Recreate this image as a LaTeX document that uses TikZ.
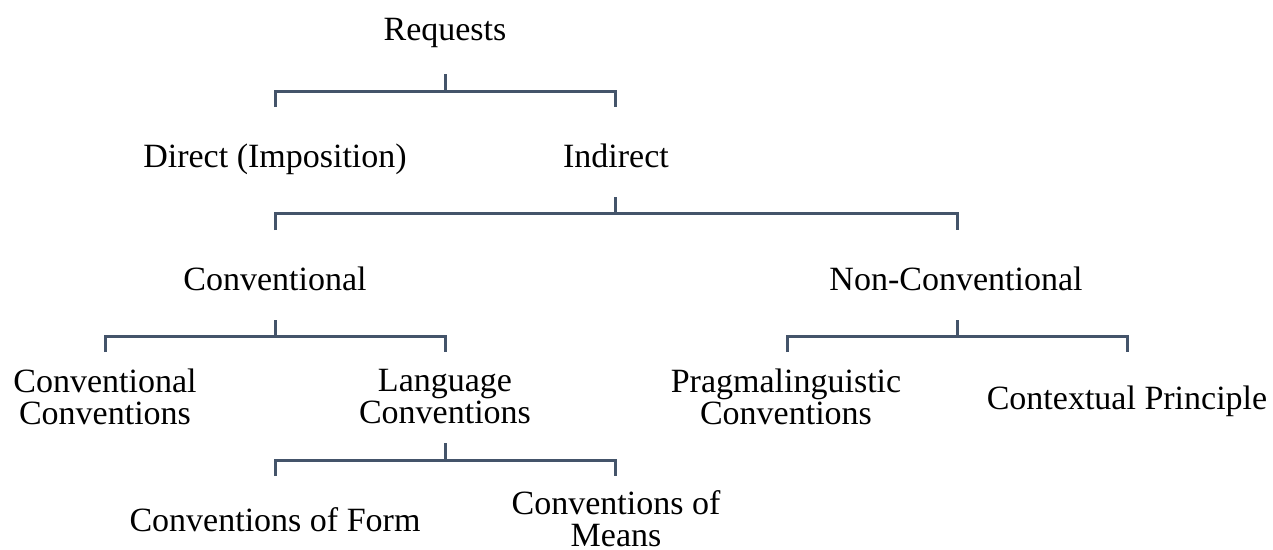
\documentclass[tikz,border=0pt]{standalone}
\usepackage{fontspec}
\setmainfont{Liberation Serif}
\definecolor{linec}{HTML}{44546A}
\begin{document}
\begin{tikzpicture}[x=1pt,y=-1pt,
  lab/.style={font=\fontsize{34}{32}\selectfont, inner sep=0pt, align=center, text=black},
  conn/.style={draw=linec, line width=3pt, line join=miter}]
\useasboundingbox (0,0) rectangle (1273,549);
% labels
\node[lab, anchor=base] (req)  at (445,40)  {Requests};
\node[lab, anchor=base] (dir)  at (275,167) {Direct (Imposition)};
\node[lab, anchor=base] (ind)  at (616,167) {Indirect};
\node[lab, anchor=base] (conv) at (275,290) {Conventional};
\node[lab, anchor=base] (nonc) at (956,290) {Non-Conventional};
\node[lab, anchor=center] (cc)  at (105,397) {Conventional\\Conventions};
\node[lab, anchor=center] (lc)  at (445,397) {Language\\Conventions};
\node[lab, anchor=center] (pc)  at (786,397) {Pragmalinguistic\\Conventions};
\node[lab, anchor=base] (cp)   at (1127,409) {Contextual Principle};
\node[lab, anchor=base] (cf)   at (275,531) {Conventions of Form};
\node[lab, anchor=center] (cm) at (616,519) {Conventions of\\Means};
% bracket 1
\coordinate (b1s) at (445,74);  \coordinate (b1m) at (445,91);
\coordinate (b1l) at (275,107); \coordinate (b1r) at (615,107);
\draw[conn] (b1s) -- (b1m);
\draw[conn] (b1l) |- (b1m) -| (b1r);
% bracket 2
\coordinate (b2s) at (615,197);  \coordinate (b2m) at (615,213);
\coordinate (b2l) at (275,230);  \coordinate (b2r) at (957,230);
\draw[conn] (b2s) -- (b2m);
\draw[conn] (b2l) |- (b2m) -| (b2r);
% bracket 3
\coordinate (b3s) at (275,320);  \coordinate (b3m) at (275,336);
\coordinate (b3l) at (105,352);  \coordinate (b3r) at (445,352);
\draw[conn] (b3s) -- (b3m);
\draw[conn] (b3l) |- (b3m) -| (b3r);
% bracket 4
\coordinate (b4s) at (957,320);  \coordinate (b4m) at (957,336);
\coordinate (b4l) at (787,352);  \coordinate (b4r) at (1127,352);
\draw[conn] (b4s) -- (b4m);
\draw[conn] (b4l) |- (b4m) -| (b4r);
% bracket 5
\coordinate (b5s) at (445,443);  \coordinate (b5m) at (445,460);
\coordinate (b5l) at (275,476);  \coordinate (b5r) at (615,476);
\draw[conn] (b5s) -- (b5m);
\draw[conn] (b5l) |- (b5m) -| (b5r);
\end{tikzpicture}
\end{document}
